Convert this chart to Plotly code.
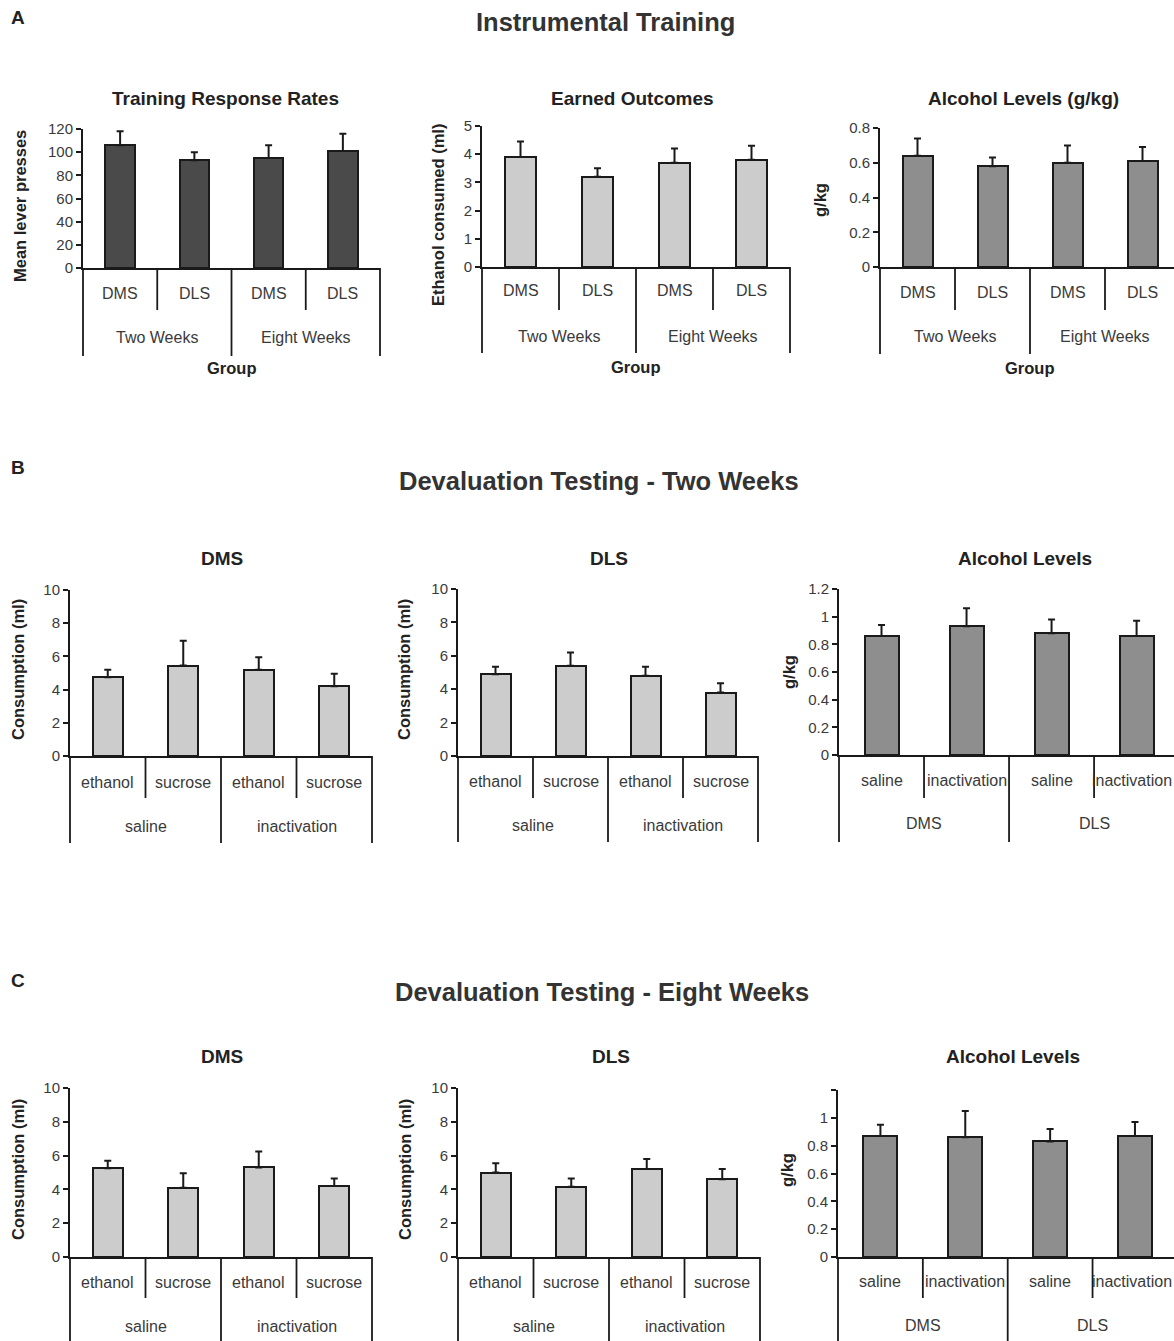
import plotly.graph_objects as go

# ---------------- data ----------------
a_categories = ["DMS", "DLS", "DMS", "DLS"]
a_groups = ["Two Weeks", "Eight Weeks"]

a1_values = [106, 93, 95, 101]
a1_errors = [12, 7, 11, 15]
a2_values = [3.9, 3.2, 3.7, 3.8]
a2_errors = [0.55, 0.3, 0.5, 0.5]
a3_values = [0.64, 0.58, 0.60, 0.61]
a3_errors = [0.10, 0.05, 0.10, 0.08]

bc_categories = ["ethanol", "sucrose", "ethanol", "sucrose"]
bc_groups = ["saline", "inactivation"]
lvl_categories = ["saline", "inactivation", "saline", "inactivation"]
lvl_groups = ["DMS", "DLS"]

b1_values = [4.75, 5.45, 5.2, 4.2]
b1_errors = [0.45, 1.5, 0.75, 0.75]
b2_values = [4.9, 5.4, 4.8, 3.8]
b2_errors = [0.45, 0.8, 0.55, 0.55]
b3_values = [0.86, 0.93, 0.88, 0.86]
b3_errors = [0.08, 0.13, 0.10, 0.11]

c1_values = [5.25, 4.1, 5.3, 4.2]
c1_errors = [0.45, 0.85, 0.95, 0.45]
c2_values = [5.0, 4.15, 5.2, 4.6]
c2_errors = [0.55, 0.5, 0.6, 0.6]
c3_values = [0.87, 0.86, 0.83, 0.87]
c3_errors = [0.08, 0.19, 0.09, 0.10]

# ---------------- layout helpers ----------------
W, H = 1174, 1341
FONT = "Liberation Sans, Arial, sans-serif"
DARK = "#4a4a4a"
LIGHT = "#cccccc"
MID = "#8e8e8e"
INK = "#1a1a1a"
LABEL = "#3a3a3a"


def fx(p):
    return p / W


def fy(p):
    return 1 - p / H


panels = [
    dict(vals=a1_values, errs=a1_errors, cats=a_categories, groups=a_groups, color=DARK,
         x0=83, x1=380, ytop=129, ybot=268, ymax=120, dtick=20, xend=3.5,
         ytitle="Mean lever presses", ytx=20, yty=206,
         title="Training Response Rates", tx=225, ty=98,
         caty=293, grpy=338, minb=310, majb=356, xlabel="Group", xly=368),
    dict(vals=a2_values, errs=a2_errors, cats=a_categories, groups=a_groups, color=LIGHT,
         x0=482, x1=790, ytop=126, ybot=267, ymax=5, dtick=1, xend=3.5,
         ytitle="Ethanol consumed (ml)", ytx=438, yty=215,
         title="Earned Outcomes", tx=632, ty=98,
         caty=291, grpy=336, minb=310, majb=353, xlabel="Group", xly=367),
    dict(vals=a3_values, errs=a3_errors, cats=a_categories, groups=a_groups, color=MID,
         x0=880, x1=1174, ytop=128, ybot=267, ymax=0.8, dtick=0.2, xend=3.42,
         ytitle="g/kg", ytx=820, yty=200,
         title="Alcohol Levels (g/kg)", tx=1023, ty=98,
         caty=292, grpy=336, minb=310, majb=354, xlabel="Group", xly=368),
    dict(vals=b1_values, errs=b1_errors, cats=bc_categories, groups=bc_groups, color=LIGHT,
         x0=70, x1=372, ytop=590, ybot=756, ymax=10, dtick=2, xend=3.5,
         ytitle="Consumption (ml)", ytx=18, yty=670,
         title="DMS", tx=222, ty=558,
         caty=782, grpy=826, minb=798, majb=843, xlabel=None, xly=None),
    dict(vals=b2_values, errs=b2_errors, cats=bc_categories, groups=bc_groups, color=LIGHT,
         x0=458, x1=758, ytop=589, ybot=756, ymax=10, dtick=2, xend=3.5,
         ytitle="Consumption (ml)", ytx=404, yty=670,
         title="DLS", tx=609, ty=558,
         caty=781, grpy=825, minb=798, majb=842, xlabel=None, xly=None),
    dict(vals=b3_values, errs=b3_errors, cats=lvl_categories, groups=lvl_groups, color=MID,
         x0=839, x1=1174, ytop=589, ybot=755, ymax=1.2, dtick=0.2, xend=3.44,
         ytitle="g/kg", ytx=789, yty=672,
         title="Alcohol Levels", tx=1025, ty=558,
         caty=780, grpy=823, minb=798, majb=842, xlabel=None, xly=None,
         clamp_last=True),
    dict(vals=c1_values, errs=c1_errors, cats=bc_categories, groups=bc_groups, color=LIGHT,
         x0=70, x1=372, ytop=1088, ybot=1257, ymax=10, dtick=2, xend=3.5,
         ytitle="Consumption (ml)", ytx=18, yty=1170,
         title="DMS", tx=222, ty=1056,
         caty=1282, grpy=1326, minb=1298, majb=1341, xlabel=None, xly=None),
    dict(vals=c2_values, errs=c2_errors, cats=bc_categories, groups=bc_groups, color=LIGHT,
         x0=458, x1=760, ytop=1088, ybot=1257, ymax=10, dtick=2, xend=3.5,
         ytitle="Consumption (ml)", ytx=405, yty=1170,
         title="DLS", tx=611, ty=1056,
         caty=1282, grpy=1326, minb=1298, majb=1341, xlabel=None, xly=None),
    dict(vals=c3_values, errs=c3_errors, cats=lvl_categories, groups=lvl_groups, color=MID,
         x0=838, x1=1174, ytop=1090, ybot=1257, ymax=1.2, dtick=0.2, xend=3.46,
         ytitle="g/kg", ytx=787, yty=1170,
         title="Alcohol Levels", tx=1013, ty=1056,
         caty=1281, grpy=1325, minb=1298, majb=1341, xlabel=None, xly=None,
         hide_top=True, clamp_last=True),
]

fig = go.Figure()
shapes = []
annotations = []

for i, p in enumerate(panels, start=1):
    xa = "x" if i == 1 else f"x{i}"
    ya = "y" if i == 1 else f"y{i}"
    xkey = "xaxis" if i == 1 else f"xaxis{i}"
    ykey = "yaxis" if i == 1 else f"yaxis{i}"
    n = len(p["cats"])
    xs = list(range(n))
    fig.add_trace(go.Bar(
        x=xs, y=p["vals"], width=0.4, xaxis=xa, yaxis=ya,
        marker=dict(color=p["color"], line=dict(color=INK, width=2)),
        error_y=dict(type="data", array=p["errs"], arrayminus=[0] * n,
                     symmetric=False, color=INK, thickness=2, width=3.5),
        showlegend=False, hoverinfo="skip",
    ))
    r0, r1 = -0.5, p["xend"]
    fig.layout[xkey] = dict(
        domain=[fx(p["x0"]), fx(p["x1"])], range=[r0, r1], anchor=ya,
        showline=True, linecolor=INK, linewidth=2, showgrid=False, automargin=False,
        zeroline=False, showticklabels=False, ticks="", fixedrange=True,
    )
    nt = int(round(p["ymax"] / p["dtick"]))
    tv = [round(k * p["dtick"], 4) for k in range(nt + 1)]
    tt = [("%g" % v) for v in tv]
    if p.get("hide_top"):
        tt[-1] = ""
    fig.layout[ykey] = dict(
        domain=[fy(p["ybot"]), fy(p["ytop"])], range=[0, p["ymax"]], anchor=xa,
        showline=True, linecolor=INK, linewidth=2, showgrid=False, automargin=False,
        zeroline=False, ticks="outside", ticklen=5, tickwidth=1.6, tickcolor=INK,
        tickvals=tv, ticktext=tt, tickfont=dict(family=FONT, size=15, color=LABEL),
        fixedrange=True,
    )

    def dom(xv):
        return (xv - r0) / (r1 - r0)

    # separators: major at group boundaries, minor between categories inside groups
    per_group = n // len(p["groups"])
    for k in range(n + 1):
        xb = k - 0.5
        if xb > r1 + 1e-9:
            continue
        bottom = p["majb"] if k % per_group == 0 else p["minb"]
        shapes.append(dict(type="line", xref=f"{xa} domain", yref="paper",
                           x0=dom(xb), x1=dom(xb), y0=fy(p["ybot"]), y1=fy(bottom),
                           line=dict(color=INK, width=1.8)))
    # category labels
    for k, c in enumerate(p["cats"]):
        if p.get("clamp_last") and k == n - 1:
            annotations.append(dict(x=1.0, y=fy(p["caty"]), xref="paper", yref="paper",
                                    text=c, showarrow=False, yanchor="middle",
                                    xanchor="right",
                                    font=dict(family=FONT, size=16, color=LABEL)))
        else:
            annotations.append(dict(x=k, y=fy(p["caty"]), xref=xa, yref="paper",
                                    text=c, showarrow=False, yanchor="middle",
                                    font=dict(family=FONT, size=16, color=LABEL)))
    # group labels
    for g, gname in enumerate(p["groups"]):
        cx = g * per_group + (per_group - 1) / 2
        annotations.append(dict(x=cx, y=fy(p["grpy"]), xref=xa, yref="paper",
                                text=gname, showarrow=False, yanchor="middle",
                                font=dict(family=FONT, size=16, color=LABEL)))
    if p["xlabel"]:
        annotations.append(dict(x=(n - 1) / 2, y=fy(p["xly"]), xref=xa, yref="paper",
                                text=f"<b>{p['xlabel']}</b>", showarrow=False,
                                yanchor="middle",
                                font=dict(family=FONT, size=16.5, color="#222")))
    # panel title
    annotations.append(dict(x=fx(p["tx"]), y=fy(p["ty"]), xref="paper", yref="paper",
                            text=f"<b>{p['title']}</b>", showarrow=False,
                            xanchor="center", yanchor="middle",
                            font=dict(family=FONT, size=19, color="#222")))
    # y-axis title
    annotations.append(dict(x=fx(p["ytx"]), y=fy(p["yty"]), xref="paper", yref="paper",
                            text=f"<b>{p['ytitle']}</b>", showarrow=False,
                            textangle=-90, xanchor="center", yanchor="middle",
                            font=dict(family=FONT, size=16.5, color="#222")))

# section headings
sections = [("A", "Instrumental Training", 18, 605, 22),
            ("B", "Devaluation Testing - Two Weeks", 468, 599, 481),
            ("C", "Devaluation Testing - Eight Weeks", 980, 602, 992)]
for letter, heading, ly, hx, hy in sections:
    annotations.append(dict(x=fx(18), y=fy(ly), xref="paper", yref="paper",
                            text=f"<b>{letter}</b>", showarrow=False,
                            xanchor="center", yanchor="middle",
                            font=dict(family=FONT, size=19, color="#222")))
    annotations.append(dict(x=fx(hx), y=fy(hy), xref="paper", yref="paper",
                            text=f"<b>{heading}</b>", showarrow=False,
                            xanchor="center", yanchor="middle",
                            font=dict(family=FONT, size=25.5, color="#333")))

fig.update_layout(
    width=W, height=H, margin=dict(l=0, r=0, t=0, b=0, pad=0, autoexpand=False),
    paper_bgcolor="white", plot_bgcolor="white",
    shapes=shapes, annotations=annotations, bargap=0,
    font=dict(family=FONT),
)

fig.write_html(
    "out.html",
    config={"displayModeBar": False},
    post_script=(
        "document.documentElement.style.margin='0';"
        "document.documentElement.style.overflow='hidden';"
        "document.body.style.margin='0';document.body.style.padding='0';"
        "document.body.style.overflow='hidden';"
        "var gd=document.getElementById('{plot_id}');"
        "gd.style.position='fixed';gd.style.top='0px';gd.style.left='0px';"
    ),
)
